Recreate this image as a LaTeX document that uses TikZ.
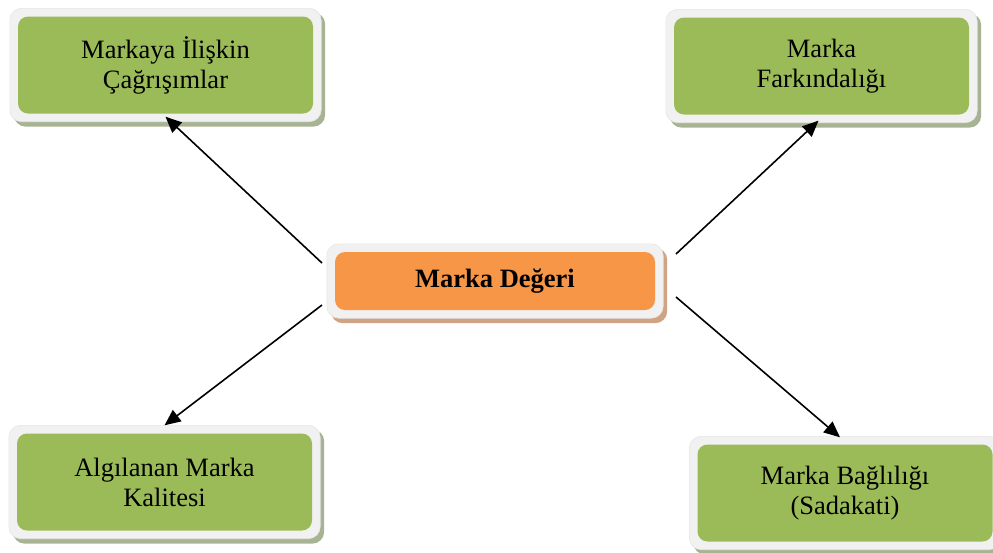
\documentclass[tikz,border=0pt]{standalone}
\usepackage{fontspec}
\setmainfont{Liberation Serif}
\usetikzlibrary{arrows.meta,backgrounds}
\definecolor{leaf}{HTML}{9BBB59}
\definecolor{peach}{HTML}{F79646}
\definecolor{rim}{HTML}{F1F1F1}
\definecolor{rimline}{HTML}{E6E6E6}
\definecolor{leafshade}{HTML}{A8B394}
\definecolor{peachshade}{HTML}{CFA383}
\tikzset{
  box/.style={rounded corners=10pt, align=center, inner sep=0pt,
    font=\fontsize{26.5pt}{30pt}\selectfont},
  greenbox/.style={box, fill=leaf, minimum width=295pt, minimum height=97pt},
  orangebox/.style={box, fill=peach, minimum width=320pt, minimum height=58pt,
    font=\fontsize{26.5pt}{30pt}\selectfont\bfseries},
  link/.style={line width=1.6pt, -{Triangle[length=16pt,width=14pt]}}
}
\begin{document}
\begin{tikzpicture}[x=1pt,y=-1pt]
\useasboundingbox (0,0) rectangle (993,552);

\node[greenbox] (assoc) at (165.5,65) {Markaya İlişkin\\Çağrışımlar};
\node[greenbox] (aware) at (821.5,66) {Marka\\Farkındalığı};
\node[greenbox] (qual) at (164.5,482) {Algılanan Marka\\Kalitesi};
\node[greenbox] (loyal) at (845,493) {Marka Bağlılığı\\(Sadakati)};
\node[orangebox] (equity) at (495,281) {Marka Değeri};

% white rim with a drop shadow behind each box
\begin{scope}[on background layer]
\foreach \n/\sh in {assoc/leafshade, aware/leafshade, qual/leafshade, loyal/leafshade, equity/peachshade}{
  \fill[\sh, rounded corners=12pt]
    ([xshift=-4pt,yshift=-13pt]\n.south west) rectangle ([xshift=12pt,yshift=4pt]\n.north east);
  \filldraw[fill=rim, draw=rimline, line width=0.6pt, rounded corners=12pt]
    ([xshift=-8pt,yshift=-8pt]\n.south west) rectangle ([xshift=8pt,yshift=8pt]\n.north east);
}
\end{scope}

% connector start points beside the central box
\coordinate (eqnw) at (322,263);
\coordinate (eqsw) at (322,305);
\coordinate (eqne) at (676,254);
\coordinate (eqse) at (676,297);

\draw[link] (eqnw) -- ([yshift=-3pt]assoc.south);
\draw[link] (eqsw) -- ([yshift=8pt]qual.north);
\draw[link] (eqne) -- ([xshift=-3pt,yshift=-6pt]aware.south);
\draw[link] (eqse) -- ([xshift=-5pt,yshift=7pt]loyal.north);
\end{tikzpicture}
\end{document}
